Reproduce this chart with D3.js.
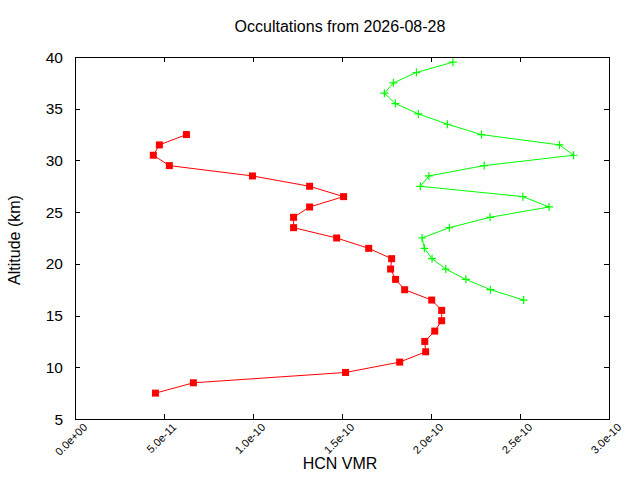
<!DOCTYPE html>
<html>
<head>
<meta charset="utf-8">
<script src="https://cdn.jsdelivr.net/npm/d3@7"></script>
<style>
  body { margin: 0; background: #fff; }
  svg { display: block; font-family: "Liberation Sans", Arial, sans-serif; }
</style>
</head>
<body>
<div id="chart"></div>
<script>
// HCN VMR profiles, values in units of 1e-11
const redAltitudes = [7.5, 8.5, 9.5, 10.5, 11.5, 12.5, 13.5, 14.5, 15.5, 16.5, 17.5, 18.5, 19.5,
  20.5, 21.5, 22.5, 23.5, 24.5, 25.5, 26.5, 27.5, 28.5, 29.5, 30.5, 31.5, 32.5];
const redValues = [4.52, 6.65, 15.2, 18.24, 19.7, 19.65, 20.21, 20.6, 20.6, 20.04, 18.52, 18.01, 17.73,
  17.79, 16.5, 14.7, 12.28, 12.28, 13.18, 15.09, 13.18, 9.97, 5.3, 4.4, 4.74, 6.26];

const greenAltitudes = [16.5, 17.5, 18.5, 19.5, 20.5, 21.5, 22.5, 23.5, 24.5, 25.5, 26.5, 27.5,
  28.5, 29.5, 30.5, 31.5, 32.5, 33.5, 34.5, 35.5, 36.5, 37.5, 38.5, 39.5];
const greenValues = [25.2, 23.34, 21.96, 20.83, 20.06, 19.63, 19.5, 21.03, 23.32, 26.63, 25.16, 19.4,
  19.88, 22.99, 28.01, 27.22, 22.83, 20.92, 19.29, 18.0, 17.38, 17.89, 19.18, 21.23];

const xTicks = [0, 5e-11, 1e-10, 1.5e-10, 2e-10, 2.5e-10, 3e-10];
const xTickLabels = ["0.0e+00", "5.0e-11", "1.0e-10", "1.5e-10", "2.0e-10", "2.5e-10", "3.0e-10"];
const yTicks = [5, 10, 15, 20, 25, 30, 35, 40];

const width = 640, height = 480;
const margin = { top: 57, right: 31, bottom: 61, left: 75 };

const svg = d3.select("#chart").append("svg")
  .attr("width", width)
  .attr("height", height);

const x = d3.scaleLinear().domain([0, 3e-10]).range([margin.left, width - margin.right]);
const y = d3.scaleLinear().domain([5, 40]).range([height - margin.bottom, margin.top]);

const toSeries = (alts, vals) => alts.map((a, i) => ({ alt: a, v: vals[i] * 1e-11 }));
const red = toSeries(redAltitudes, redValues);
const green = toSeries(greenAltitudes, greenValues);

const tickLen = 5;

// ticks, all pointing inward (mirrored on top/right)
const axes = svg.append("g").attr("stroke", "#000").attr("stroke-width", 1);
xTicks.forEach((t) => {
  const px = Math.round(x(t)) + 0.5;
  axes.append("line").attr("x1", px).attr("x2", px)
    .attr("y1", y(5)).attr("y2", y(5) - tickLen);
  axes.append("line").attr("x1", px).attr("x2", px)
    .attr("y1", y(40)).attr("y2", y(40) + tickLen);
});
yTicks.forEach((t) => {
  const py = Math.round(y(t)) + 0.5;
  axes.append("line").attr("x1", x(0)).attr("x2", x(0) + tickLen)
    .attr("y1", py).attr("y2", py);
  axes.append("line").attr("x1", x(3e-10)).attr("x2", x(3e-10) - tickLen)
    .attr("y1", py).attr("y2", py);
});

// frame
svg.append("rect")
  .attr("x", x(0) + 0.5).attr("y", y(40) + 0.5)
  .attr("width", x(3e-10) - x(0)).attr("height", y(5) - y(40))
  .attr("fill", "none").attr("stroke", "#000").attr("stroke-width", 1);

// x tick labels, rotated
svg.append("g")
  .selectAll("text")
  .data(xTicks)
  .join("text")
  .attr("transform", (d) => `translate(${x(d) + 13},${y(5) + 9}) rotate(-45)`)
  .attr("text-anchor", "end")
  .style("font-size", "11px")
  .attr("fill", "#000")
  .text((d, i) => xTickLabels[i]);

// y tick labels
svg.append("g")
  .selectAll("text")
  .data(yTicks)
  .join("text")
  .attr("x", x(0) - 12)
  .attr("y", (d) => y(d))
  .attr("dy", "0.36em")
  .attr("text-anchor", "end")
  .style("font-size", "15.5px")
  .attr("fill", "#000")
  .text((d) => d);

// titles
svg.append("text")
  .attr("x", 340).attr("y", 32)
  .attr("text-anchor", "middle")
  .style("font-size", "16px")
  .text("Occultations from 2026-08-28");

svg.append("text")
  .attr("x", 340).attr("y", 469)
  .attr("text-anchor", "middle")
  .style("font-size", "16px")
  .text("HCN VMR");

svg.append("text")
  .attr("transform", `translate(20,240) rotate(-90)`)
  .attr("text-anchor", "middle")
  .style("font-size", "16px")
  .text("Altitude (km)");

const line = d3.line().x((d) => x(d.v)).y((d) => y(d.alt));

// red series with square markers
svg.append("path")
  .datum(red)
  .attr("fill", "none")
  .attr("stroke", "#ff0000")
  .attr("stroke-width", 1)
  .attr("d", line);

svg.append("g")
  .selectAll("rect")
  .data(red)
  .join("rect")
  .attr("x", (d) => x(d.v) - 3.5)
  .attr("y", (d) => y(d.alt) - 3.5)
  .attr("width", 7)
  .attr("height", 7)
  .attr("fill", "#ff0000");

// green series with plus markers
svg.append("path")
  .datum(green)
  .attr("fill", "none")
  .attr("stroke", "#00ff00")
  .attr("stroke-width", 1)
  .attr("d", line);

svg.append("g")
  .selectAll("path")
  .data(green)
  .join("path")
  .attr("d", (d) => {
    const cx = x(d.v), cy = y(d.alt), s = 4;
    return `M${cx - s},${cy}H${cx + s}M${cx},${cy - s}V${cy + s}`;
  })
  .attr("stroke", "#00ff00")
  .attr("stroke-width", 1.2)
  .attr("fill", "none");
</script>
</body>
</html>
